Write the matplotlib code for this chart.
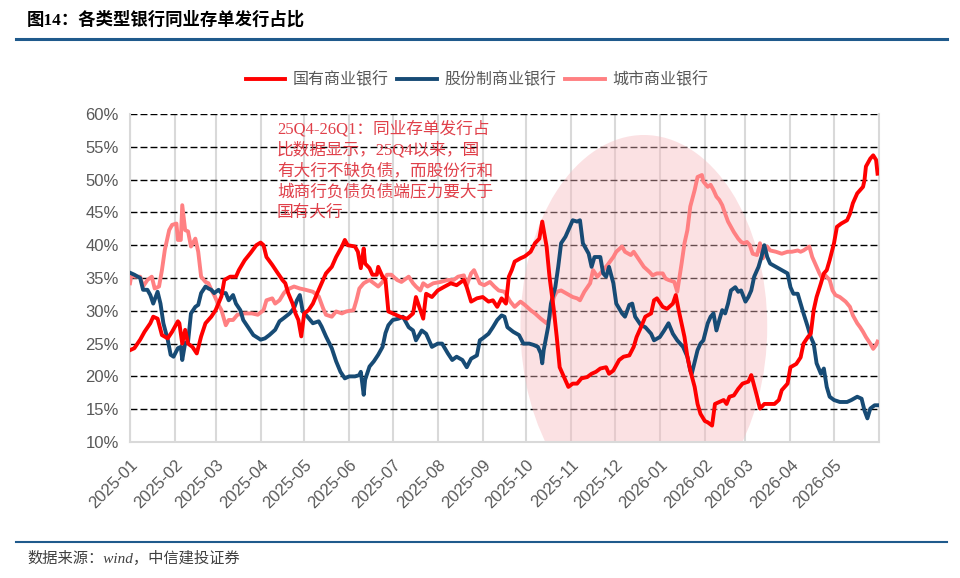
import matplotlib
matplotlib.use('Agg')
import matplotlib.pyplot as plt
import matplotlib.dates as mdates
from matplotlib.patches import Ellipse
import pandas as pd

plt.rcParams['font.family'] = ['Liberation Sans', 'Noto Sans CJK SC', 'DejaVu Sans']

# ---- data ----
red_dates = [
    '2025-01-01', '2025-01-04', '2025-01-08', '2025-01-11', '2025-01-15', '2025-01-17', '2025-01-20',
    '2025-01-23', '2025-01-27', '2025-01-30', '2025-02-03', '2025-02-04', '2025-02-06', '2025-02-08',
    '2025-02-10', '2025-02-13', '2025-02-16', '2025-02-19', '2025-02-22', '2025-02-26', '2025-03-01',
    '2025-03-05', '2025-03-07', '2025-03-11', '2025-03-15', '2025-03-17', '2025-03-21', '2025-03-25',
    '2025-03-29', '2025-04-01', '2025-04-03', '2025-04-05', '2025-04-09', '2025-04-12', '2025-04-16',
    '2025-04-18', '2025-04-20', '2025-04-23', '2025-04-25', '2025-04-27', '2025-04-29', '2025-05-01',
    '2025-05-04', '2025-05-07', '2025-05-11', '2025-05-14', '2025-05-16', '2025-05-20', '2025-05-23',
    '2025-05-27', '2025-05-29', '2025-05-31', '2025-06-05', '2025-06-07', '2025-06-09', '2025-06-11',
    '2025-06-12', '2025-06-15', '2025-06-17', '2025-06-20', '2025-06-21', '2025-06-24', '2025-06-26',
    '2025-06-28', '2025-07-01', '2025-07-06', '2025-07-11', '2025-07-15', '2025-07-17', '2025-07-20',
    '2025-07-22', '2025-07-24', '2025-07-28', '2025-08-01', '2025-08-05', '2025-08-10', '2025-08-14',
    '2025-08-19', '2025-08-21', '2025-08-24', '2025-08-28', '2025-09-01', '2025-09-05', '2025-09-08',
    '2025-09-11', '2025-09-14', '2025-09-17', '2025-09-19', '2025-09-21', '2025-09-23', '2025-09-27',
    '2025-09-30', '2025-10-04', '2025-10-07', '2025-10-10', '2025-10-12', '2025-10-15', '2025-10-17',
    '2025-10-20', '2025-10-22', '2025-10-24', '2025-10-27', '2025-10-30', '2025-11-02', '2025-11-05',
    '2025-11-08', '2025-11-12', '2025-11-15', '2025-11-18', '2025-11-21', '2025-11-25', '2025-11-27',
    '2025-11-30', '2025-12-04', '2025-12-07', '2025-12-11', '2025-12-14', '2025-12-16', '2025-12-19',
    '2025-12-22', '2025-12-26', '2025-12-28', '2025-12-30', '2026-01-03', '2026-01-06', '2026-01-10',
    '2026-01-12', '2026-01-14', '2026-01-18', '2026-01-20', '2026-01-22', '2026-01-25', '2026-01-27',
    '2026-01-29', '2026-02-01', '2026-02-03', '2026-02-06', '2026-02-08', '2026-02-11', '2026-02-14',
    '2026-02-16', '2026-02-18', '2026-02-21', '2026-02-24', '2026-02-27', '2026-03-03', '2026-03-05',
    '2026-03-06', '2026-03-09', '2026-03-11', '2026-03-14', '2026-03-18', '2026-03-21', '2026-03-24',
    '2026-03-26', '2026-03-30', '2026-04-01', '2026-04-05', '2026-04-08', '2026-04-10', '2026-04-13',
    '2026-04-15', '2026-04-17', '2026-04-19', '2026-04-22', '2026-04-24', '2026-04-26', '2026-04-28',
    '2026-05-01', '2026-05-03', '2026-05-06', '2026-05-10', '2026-05-12', '2026-05-14', '2026-05-17',
    '2026-05-19', '2026-05-21', '2026-05-22', '2026-05-23', '2026-05-26', '2026-05-28', '2026-05-30',
    '2026-05-31']
red_vals = [
    24.0, 24.3, 25.6, 26.8, 28.1, 29.1, 28.8, 26.3, 25.8, 26.8, 28.4, 28.1, 25.0, 27.1,
    25.0, 24.5, 23.5, 26.1, 28.1, 29.1, 30.1, 32.2, 34.7, 35.2, 35.2, 36.2, 37.7, 38.8,
    40.0, 40.4, 40.0, 38.2, 37.0, 36.0, 34.7, 34.2, 32.7, 31.1, 29.6, 28.6, 26.1, 29.6,
    30.1, 31.1, 33.2, 34.7, 35.7, 36.7, 38.2, 39.8, 40.8, 40.0, 39.8, 39.0, 36.5, 39.5,
    37.2, 36.5, 35.5, 35.5, 36.7, 35.2, 34.7, 29.9, 29.6, 29.1, 28.8, 29.6, 32.1, 30.1,
    28.8, 32.6, 32.1, 33.1, 33.6, 34.2, 33.9, 34.7, 33.6, 31.4, 31.9, 32.1, 31.4, 31.6,
    30.6, 31.9, 31.1, 35.2, 36.2, 37.5, 38.0, 38.3, 39.0, 40.3, 41.0, 43.6, 39.8, 35.2,
    30.1, 26.0, 21.4, 19.9, 18.4, 18.9, 18.9, 19.7, 19.9, 20.4, 20.7, 21.2, 21.4, 20.4,
    20.9, 22.5, 23.0, 23.2, 24.5, 26.0, 27.5, 29.1, 29.6, 31.6, 31.9, 30.6, 30.3, 31.1,
    32.4, 30.1, 26.0, 23.0, 20.9, 18.4, 15.8, 14.3, 13.2, 13.0, 12.5, 15.8, 16.1, 16.4,
    15.8, 16.9, 17.1, 18.1, 18.9, 19.2, 20.2, 19.4, 16.9, 15.1, 15.8, 15.8, 15.8, 16.4,
    17.9, 18.9, 21.4, 21.9, 22.9, 25.0, 26.0, 26.5, 30.1, 32.1, 34.2, 35.7, 36.2, 37.7,
    40.3, 42.8, 43.3, 43.8, 44.8, 46.4, 47.9, 48.4, 48.9, 49.9, 52.0, 53.2, 53.7, 53.0,
    50.9]

blue_dates = [
    '2025-01-01', '2025-01-04', '2025-01-08', '2025-01-10', '2025-01-13', '2025-01-15', '2025-01-17',
    '2025-01-20', '2025-01-22', '2025-01-24', '2025-01-27', '2025-01-29', '2025-01-31', '2025-02-03',
    '2025-02-05', '2025-02-06', '2025-02-08', '2025-02-10', '2025-02-12', '2025-02-15', '2025-02-17',
    '2025-02-19', '2025-02-22', '2025-02-24', '2025-02-26', '2025-02-28', '2025-03-03', '2025-03-05',
    '2025-03-08', '2025-03-10', '2025-03-13', '2025-03-15', '2025-03-18', '2025-03-20', '2025-03-24',
    '2025-03-27', '2025-04-01', '2025-04-04', '2025-04-07', '2025-04-11', '2025-04-14', '2025-04-17',
    '2025-04-21', '2025-04-24', '2025-04-26', '2025-04-28', '2025-04-30', '2025-05-04', '2025-05-07',
    '2025-05-11', '2025-05-13', '2025-05-16', '2025-05-20', '2025-05-23', '2025-05-26', '2025-05-29',
    '2025-06-01', '2025-06-05', '2025-06-08', '2025-06-09', '2025-06-11', '2025-06-12', '2025-06-15',
    '2025-06-18', '2025-06-21', '2025-06-24', '2025-06-26', '2025-06-28', '2025-07-01', '2025-07-05',
    '2025-07-08', '2025-07-12', '2025-07-15', '2025-07-17', '2025-07-21', '2025-07-24', '2025-07-28',
    '2025-08-01', '2025-08-04', '2025-08-08', '2025-08-11', '2025-08-14', '2025-08-18', '2025-08-21',
    '2025-08-24', '2025-08-28', '2025-08-30', '2025-09-01', '2025-09-05', '2025-09-08', '2025-09-11',
    '2025-09-14', '2025-09-16', '2025-09-18', '2025-09-22', '2025-09-26', '2025-09-29', '2025-10-03',
    '2025-10-06', '2025-10-09', '2025-10-11', '2025-10-12', '2025-10-13', '2025-10-16', '2025-10-18',
    '2025-10-21', '2025-10-23', '2025-10-25', '2025-10-28', '2025-10-30', '2025-11-02', '2025-11-05',
    '2025-11-07', '2025-11-09', '2025-11-13', '2025-11-15', '2025-11-17', '2025-11-21', '2025-11-23',
    '2025-11-25', '2025-11-27', '2025-11-30', '2025-12-02', '2025-12-06', '2025-12-08', '2025-12-11',
    '2025-12-13', '2025-12-15', '2025-12-19', '2025-12-22', '2025-12-26', '2025-12-28', '2026-01-01',
    '2026-01-04', '2026-01-07', '2026-01-10', '2026-01-13', '2026-01-17', '2026-01-20', '2026-01-22',
    '2026-01-23', '2026-01-27', '2026-01-29', '2026-01-31', '2026-02-03', '2026-02-05', '2026-02-07',
    '2026-02-09', '2026-02-11', '2026-02-13', '2026-02-15', '2026-02-17', '2026-02-19', '2026-02-22',
    '2026-02-24', '2026-02-26', '2026-03-01', '2026-03-03', '2026-03-05', '2026-03-07', '2026-03-10',
    '2026-03-12', '2026-03-14', '2026-03-16', '2026-03-18', '2026-03-22', '2026-03-26', '2026-03-30',
    '2026-04-01', '2026-04-03', '2026-04-06', '2026-04-08', '2026-04-10', '2026-04-13', '2026-04-15',
    '2026-04-17', '2026-04-19', '2026-04-22', '2026-04-24', '2026-04-26', '2026-04-28', '2026-05-01',
    '2026-05-05', '2026-05-10', '2026-05-13', '2026-05-17', '2026-05-20', '2026-05-22', '2026-05-24',
    '2026-05-26', '2026-05-29', '2026-05-31']
blue_vals = [
    35.8, 35.5, 35.0, 33.2, 33.2, 32.4, 31.1, 32.9, 31.1, 28.1, 25.6, 23.3, 23.0, 24.3,
    24.5, 22.5, 25.1, 25.3, 29.6, 30.6, 30.9, 32.7, 33.7, 33.4, 33.2, 32.7, 33.2, 32.7,
    32.7, 31.6, 32.4, 31.1, 30.1, 28.6, 27.3, 26.3, 25.6, 25.8, 26.3, 27.1, 28.4, 28.9,
    29.6, 30.4, 31.6, 32.4, 29.9, 28.9, 28.1, 28.4, 27.6, 26.1, 24.3, 22.3, 20.7, 19.7,
    20.0, 20.0, 20.2, 20.7, 17.2, 19.5, 21.5, 22.3, 23.3, 24.5, 26.6, 27.8, 28.6, 28.8,
    29.1, 27.5, 27.0, 25.5, 27.0, 26.5, 24.5, 25.0, 25.0, 23.5, 22.5, 23.0, 22.5, 21.4,
    22.7, 23.2, 25.5, 25.8, 26.5, 27.5, 28.6, 29.3, 29.1, 27.5, 26.8, 26.3, 25.0, 25.0,
    24.8, 24.5, 23.5, 22.0, 24.0, 27.5, 31.1, 33.6, 36.7, 40.3, 41.3, 42.3, 43.8, 43.6,
    43.8, 40.3, 38.7, 36.7, 38.2, 38.2, 35.7, 35.2, 36.7, 34.2, 31.1, 29.6, 29.1, 30.9,
    31.1, 29.1, 27.8, 27.5, 26.5, 25.5, 26.0, 27.0, 28.1, 26.5, 25.5, 24.5, 23.0, 20.9,
    20.4, 24.0, 25.0, 25.5, 28.1, 29.1, 29.6, 27.0, 28.6, 30.1, 29.6, 31.1, 33.1, 33.6,
    32.9, 33.1, 31.4, 32.1, 33.1, 35.2, 36.7, 38.2, 40.0, 38.2, 37.2, 36.7, 36.2, 35.7,
    33.6, 32.6, 32.6, 31.1, 29.6, 27.5, 26.0, 25.0, 22.0, 20.4, 21.2, 18.4, 16.9, 16.4,
    16.1, 16.1, 16.4, 16.9, 16.6, 14.8, 13.6, 15.1, 15.6, 15.6]

pink_dates = [
    '2025-01-01', '2025-01-02', '2025-01-04', '2025-01-08', '2025-01-10', '2025-01-13', '2025-01-16',
    '2025-01-18', '2025-01-21', '2025-01-23', '2025-01-25', '2025-01-28', '2025-01-30', '2025-02-02',
    '2025-02-03', '2025-02-05', '2025-02-06', '2025-02-08', '2025-02-10', '2025-02-12', '2025-02-15',
    '2025-02-17', '2025-02-19', '2025-02-22', '2025-02-24', '2025-02-26', '2025-02-28', '2025-03-03',
    '2025-03-05', '2025-03-08', '2025-03-10', '2025-03-13', '2025-03-16', '2025-03-21', '2025-03-26',
    '2025-03-30', '2025-04-03', '2025-04-05', '2025-04-09', '2025-04-11', '2025-04-14', '2025-04-17',
    '2025-04-19', '2025-04-24', '2025-04-28', '2025-05-02', '2025-05-07', '2025-05-11', '2025-05-14',
    '2025-05-16', '2025-05-20', '2025-05-23', '2025-05-27', '2025-05-30', '2025-06-04', '2025-06-06',
    '2025-06-08', '2025-06-11', '2025-06-15', '2025-06-18', '2025-06-21', '2025-06-24', '2025-06-27',
    '2025-06-30', '2025-07-04', '2025-07-07', '2025-07-12', '2025-07-15', '2025-07-17', '2025-07-20',
    '2025-07-22', '2025-07-25', '2025-07-29', '2025-08-03', '2025-08-08', '2025-08-12', '2025-08-15',
    '2025-08-19', '2025-08-21', '2025-08-24', '2025-08-26', '2025-08-30', '2025-09-02', '2025-09-06',
    '2025-09-09', '2025-09-12', '2025-09-16', '2025-09-20', '2025-09-23', '2025-09-27', '2025-09-30',
    '2025-10-04', '2025-10-07', '2025-10-11', '2025-10-15', '2025-10-17', '2025-10-20', '2025-10-22',
    '2025-10-25', '2025-10-29', '2025-11-02', '2025-11-05', '2025-11-07', '2025-11-10', '2025-11-14',
    '2025-11-16', '2025-11-19', '2025-11-23', '2025-11-26', '2025-11-30', '2025-12-02', '2025-12-06',
    '2025-12-08', '2025-12-12', '2025-12-14', '2025-12-18', '2025-12-21', '2025-12-25', '2025-12-27',
    '2025-12-30', '2026-01-03', '2026-01-05', '2026-01-07', '2026-01-11', '2026-01-13', '2026-01-16',
    '2026-01-18', '2026-01-20', '2026-01-22', '2026-01-25', '2026-01-27', '2026-01-30', '2026-01-31',
    '2026-02-03', '2026-02-05', '2026-02-07', '2026-02-09', '2026-02-11', '2026-02-13', '2026-02-15',
    '2026-02-17', '2026-02-19', '2026-02-21', '2026-02-24', '2026-02-26', '2026-02-28', '2026-03-02',
    '2026-03-04', '2026-03-06', '2026-03-09', '2026-03-11', '2026-03-13', '2026-03-16', '2026-03-18',
    '2026-03-22', '2026-03-26', '2026-03-30', '2026-04-02', '2026-04-06', '2026-04-08', '2026-04-10',
    '2026-04-14', '2026-04-16', '2026-04-18', '2026-04-21', '2026-04-23', '2026-04-25', '2026-04-28',
    '2026-04-30', '2026-05-02', '2026-05-05', '2026-05-09', '2026-05-12', '2026-05-14', '2026-05-17',
    '2026-05-19', '2026-05-21', '2026-05-23', '2026-05-26', '2026-05-28', '2026-05-30', '2026-05-31']
pink_vals = [
    34.2, 35.5, 35.2, 35.2, 33.7, 34.7, 35.2, 33.4, 33.7, 36.2, 39.3, 42.3, 43.1, 43.3,
    40.8, 40.8, 46.1, 42.3, 42.1, 39.8, 41.0, 39.0, 35.2, 34.4, 34.2, 33.2, 32.4, 30.9,
    30.1, 27.8, 28.6, 28.6, 29.4, 29.6, 29.6, 29.4, 30.1, 31.6, 31.9, 31.1, 31.6, 32.7,
    33.2, 33.7, 33.4, 33.2, 32.9, 32.2, 30.4, 29.4, 29.1, 29.9, 29.6, 29.9, 30.1, 31.6,
    33.4, 34.2, 34.7, 34.2, 33.7, 34.4, 35.5, 35.5, 34.7, 34.4, 35.2, 34.2, 33.7, 33.1,
    34.2, 33.7, 34.2, 34.4, 34.7, 34.7, 35.2, 35.4, 33.9, 35.7, 36.2, 34.2, 33.9, 34.4,
    33.7, 33.1, 32.9, 31.4, 30.6, 31.4, 30.9, 30.1, 29.6, 28.8, 28.1, 28.8, 32.1, 32.9,
    33.1, 32.6, 32.1, 31.9, 31.6, 32.9, 34.2, 36.2, 35.2, 36.2, 37.0, 38.2, 39.0, 39.8,
    39.0, 38.5, 39.0, 37.7, 36.7, 35.9, 35.4, 35.7, 35.7, 34.9, 34.7, 34.4, 32.9, 37.2,
    40.3, 42.3, 45.9, 48.4, 50.4, 50.7, 49.7, 48.9, 49.2, 48.4, 47.4, 46.9, 46.1, 44.8,
    43.6, 42.8, 42.0, 41.0, 40.5, 40.3, 40.5, 40.0, 38.7, 38.5, 40.3, 38.0, 39.8, 39.2,
    39.0, 38.7, 39.0, 39.0, 39.2, 39.0, 39.2, 39.8, 38.2, 37.2, 35.7, 34.9, 35.4, 34.7,
    33.1, 32.4, 32.1, 31.4, 30.6, 29.3, 28.1, 27.5, 26.8, 26.0, 25.0, 24.2, 24.8, 25.3]

series_names = ['国有商业银行', '股份制商业银行', '城市商业银行']
series_colors = ['#ff0000', '#174b75', '#ff8082']
month_ticks = pd.date_range('2025-01-01', '2026-05-01', freq='MS')
y_ticks = list(range(10, 61, 5))

note_text = ('25Q4-26Q1：同业存单发行占\n比数据显示，25Q4以来，国\n'
             '有大行不缺负债，而股份行和\n城商行负债负债端压力要大于\n国有大行')

# ---- figure ----
fig = plt.figure(figsize=(9.6, 5.78), dpi=100)
ax = fig.add_axes([130/960, 1-442/578, 749/960, 328/578])

ax.set_xlim(pd.Timestamp('2025-01-01'), pd.Timestamp('2026-06-01'))
ax.set_ylim(10, 60)

# month grid (light gray) and dashed horizontal grid
for d in month_ticks:
    ax.axvline(d, color='#d9d9d9', lw=1.5, zorder=1)
for y in y_ticks[1:]:
    ax.axhline(y, color='black', lw=1.0, ls=(0, (5, 2.2)), zorder=2)

# highlighted period
ell_center = mdates.date2num(pd.Timestamp('2025-12-21'))
ax.add_patch(Ellipse((ell_center, 27.6), width=170, height=58.4,
                     facecolor='#f7b8bd', alpha=0.42, edgecolor='none', zorder=2.5))

ax.plot(pd.to_datetime(pink_dates), pink_vals, color=series_colors[2], lw=2.8,
        label=series_names[2], zorder=3, solid_joinstyle='round')
ax.plot(pd.to_datetime(blue_dates), blue_vals, color=series_colors[1], lw=2.8,
        label=series_names[1], zorder=4, solid_joinstyle='round')
ax.plot(pd.to_datetime(red_dates), red_vals, color=series_colors[0], lw=2.8,
        label=series_names[0], zorder=5, solid_joinstyle='round')

ax.set_yticks(y_ticks)
ax.set_yticklabels([f'{v}%' for v in y_ticks])
ax.set_xticks(month_ticks)
ax.set_xticklabels([d.strftime('%Y-%m') for d in month_ticks])
ax.tick_params(axis='both', length=0, labelsize=12, colors='#595959')
ax.tick_params(axis='y', pad=8)
ax.tick_params(axis='x', pad=11)
plt.setp(ax.get_xticklabels(), rotation=45, ha='right', va='top', rotation_mode='anchor')

ax.spines['top'].set_visible(False)
for s in ['left', 'bottom', 'right']:
    ax.spines[s].set_color('#d9d9d9')
    ax.spines[s].set_linewidth(1.5)

ax.text(0.2885, 0.791, note_text, transform=fig.transFigure, ha='left', va='top',
        fontsize=12, color='#e0404a', linespacing=1.38,
        family=['Liberation Serif', 'Noto Sans CJK SC'], zorder=6)

# legend
h, l = ax.get_legend_handles_labels()
order = [2, 1, 0]
fig.legend([h[i] for i in order], [l[i] for i in order], loc='center',
           bbox_to_anchor=(477/960, 1-80/578), ncol=3, frameon=False,
           fontsize=11.5, handlelength=2.5, handletextpad=0.45, columnspacing=0.55,
           labelcolor='#595959')

# title, rules and source
fig.text(27/960, 1-20/578, '图14：各类型银行同业存单发行占比', ha='left', va='center',
         fontsize=12.5, fontweight='bold', color='black',
         family=['Liberation Serif', 'Noto Sans CJK SC'])
fig.add_artist(plt.Line2D([16/960, 947/960], [1-39/578, 1-39/578], color='#1f5a8c', lw=2.2))
fig.add_artist(plt.Line2D([16/960, 947/960], [1-542/578, 1-542/578], color='#1f5a8c', lw=1.5))
fig.text(27/960, 1-558/578, '数据来源：wind，中信建投证券', ha='left', va='center',
         fontsize=11, style='italic', color='#404040',
         family=['Liberation Serif', 'Noto Sans CJK SC'])

fig.savefig('out.png', dpi=100)
